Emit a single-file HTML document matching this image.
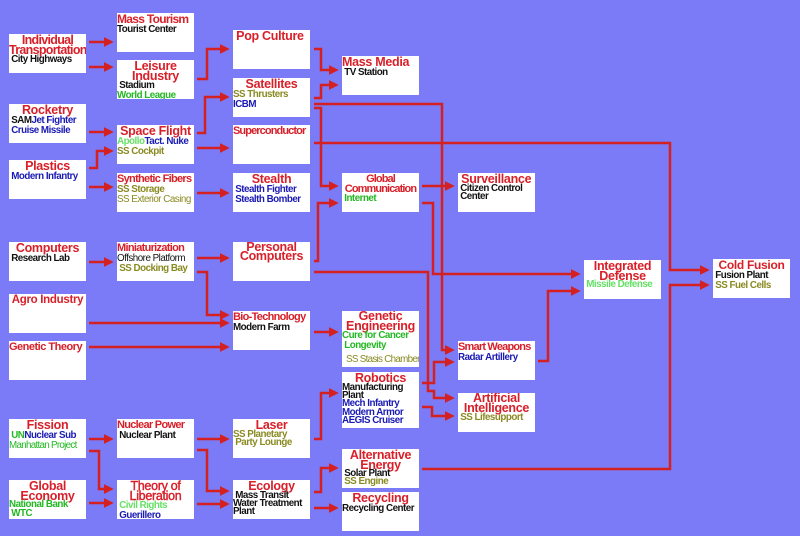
<!DOCTYPE html>
<html><head><meta charset="utf-8"><style>
body{margin:0;width:800px;height:536px;background:#7b7bf7;position:relative;overflow:hidden;font-family:"Liberation Sans",Arial,sans-serif;font-weight:bold}
.b{position:absolute;width:77px;height:39px;background:#fff;line-height:9.5px;font-size:9.8px;letter-spacing:-0.5px;white-space:nowrap;overflow:hidden}
.t{color:#d8202a;font-size:12.5px;line-height:11px;text-align:center;letter-spacing:-0.3px;margin-top:1px}
.k{color:#111}.u{color:#1a1ab4}.o{color:#8a8a22}.g{color:#22b822}.l{color:#66e066}
.n{font-weight:normal}
svg{position:absolute;left:0;top:0}
</style></head><body>
<svg width="800" height="536">
<defs><marker id="a" markerWidth="4" markerHeight="4" refX="2.5" refY="2" orient="auto" markerUnits="strokeWidth"><path d="M0,0L4,2L0,4z" fill="#d42020"/></marker></defs>
<g fill="none" stroke="#d42020" stroke-width="2.5" marker-end="url(#a)">
<path d="M89,42H110"/><path d="M89,67H110"/>
<path d="M197,79H207V49H226"/>
<path d="M314,49H321V70H335"/>
<path d="M314,98H321V85H335"/>
<path d="M314,104H442V350H451"/>
<path d="M314,108H321V186H335"/>
<path d="M314,143H670V270H706"/>
<path d="M89,132H110"/>
<path d="M89,168H97V151H110"/>
<path d="M89,187H110"/>
<path d="M197,133H205V97H226"/>
<path d="M197,148H226"/>
<path d="M197,193H226"/>
<path d="M314,261H318V203H335"/>
<path d="M422,186H451"/>
<path d="M422,203H433V274H577"/>
<path d="M314,272H428V391H434V398H451"/>
<path d="M422,383H434V362H451"/>
<path d="M422,407H432V416H451"/>
<path d="M538,361H548V291H577"/>
<path d="M422,469H670V285H706"/>
<path d="M89,262H110"/>
<path d="M197,258H226"/>
<path d="M197,272H207V315H226"/>
<path d="M89,323H226"/>
<path d="M89,347H226"/>
<path d="M314,332H335"/>
<path d="M89,439H110"/>
<path d="M89,451H99V489H110"/>
<path d="M89,503H110"/>
<path d="M197,439H226"/>
<path d="M197,450H207V491H226"/>
<path d="M197,504H226"/>
<path d="M314,439H321V393H335"/>
<path d="M314,492H321V468H335"/>
<path d="M314,508H335"/>
</g></svg>

<div class="b" style="left:9px;top:34px"><div class="t" style="line-height:10px;letter-spacing:-0.7px">Individual<br>Transportation</div><div class="k">&nbsp;City Highways</div></div>
<div class="b" style="left:117px;top:13px"><div class="t" style="text-align:left;font-size:12px;letter-spacing:-0.7px">Mass Tourism</div><div class="k">Tourist Center</div></div>
<div class="b" style="left:117px;top:60px"><div class="t" style="line-height:10px">Leisure<br>Industry</div><div class="k">&nbsp;Stadium</div><div class="g">World League</div></div>
<div class="b" style="left:233px;top:30px"><div class="t" style="text-align:left">&nbsp;Pop Culture</div></div>
<div class="b" style="left:233px;top:78px"><div class="t">Satellites</div><div class="o">SS Thrusters</div><div class="u">ICBM</div></div>
<div class="b" style="left:233px;top:125px"><div class="t" style="text-align:left;font-size:11px;letter-spacing:-0.9px">Superconductor</div></div>
<div class="b" style="left:233px;top:173px"><div class="t">Stealth</div><div class="u">&nbsp;Stealth Fighter<br>&nbsp;Stealth Bomber</div></div>
<div class="b" style="left:342px;top:56px"><div class="t" style="text-align:left">Mass Media</div><div class="k">&nbsp;TV Station</div></div>
<div class="b" style="left:342px;top:173px"><div class="t" style="line-height:10px;font-size:11px;letter-spacing:-0.9px">Global<br>Communication</div><div class="g">&nbsp;Internet</div></div>
<div class="b" style="left:458px;top:173px"><div class="t" style="text-align:left">&nbsp;Surveillance</div><div class="k" style="line-height:8px">&nbsp;Citizen Control<br>&nbsp;Center</div></div>
<div class="b" style="left:9px;top:104px"><div class="t">Rocketry</div><div><span class="k">&nbsp;SAM</span><span class="u">Jet Fighter</span></div><div class="u">&nbsp;Cruise Missile</div></div>
<div class="b" style="left:9px;top:160px"><div class="t">Plastics</div><div class="u">&nbsp;Modern Infantry</div></div>
<div class="b" style="left:117px;top:125px"><div class="t">Space Flight</div><div><span class="l">Apollo</span><span class="u">Tact. Nuke</span></div><div class="o">SS Cockpit</div></div>
<div class="b" style="left:117px;top:173px"><div class="t" style="font-size:11px;letter-spacing:-0.7px;text-align:left">Synthetic Fibers</div><div class="o">SS Storage</div><div class="o n">SS Exterior Casing</div></div>
<div class="b" style="left:9px;top:242px"><div class="t">Computers</div><div class="k">&nbsp;Research Lab</div></div>
<div class="b" style="left:117px;top:242px"><div class="t" style="font-size:11px;letter-spacing:-0.7px;text-align:left">Miniaturization</div><div class="k n">Offshore Platform</div><div class="o">&nbsp;SS Docking Bay</div></div>
<div class="b" style="left:233px;top:242px"><div class="t" style="line-height:9px">Personal<br>Computers</div></div>
<div class="b" style="left:9px;top:294px"><div class="t" style="font-size:11.5px">Agro Industry</div></div>
<div class="b" style="left:9px;top:341px"><div class="t" style="font-size:11px;text-align:left;letter-spacing:-0.5px">Genetic Theory</div></div>
<div class="b" style="left:233px;top:311px"><div class="t" style="font-size:11px;text-align:left;letter-spacing:-0.7px">Bio-Technology</div><div class="k">Modern Farm</div></div>
<div class="b" style="left:342px;top:311px;height:56px"><div class="t" style="line-height:9.5px">Genetic<br>Engineering</div><div class="g">Cure for Cancer<br>&nbsp;Longevity</div><div class="o n" style="margin-top:5px;letter-spacing:-0.7px">&nbsp;&nbsp;SS Stasis Chamber</div></div>
<div class="b" style="left:342px;top:372px;height:56px"><div class="t">Robotics</div><div class="k" style="line-height:8px">Manufacturing<br>Plant</div><div class="u" style="line-height:8.5px">Mech Infantry<br>Modern Armor<br>AEGIS Cruiser</div></div>
<div class="b" style="left:458px;top:341px"><div class="t" style="font-size:11px;letter-spacing:-0.8px;text-align:left">Smart Weapons</div><div class="u">Radar Artillery</div></div>
<div class="b" style="left:458px;top:393px"><div class="t" style="line-height:9.5px">Artificial<br>Intelligence</div><div class="o">&nbsp;SS Lifesupport</div></div>
<div class="b" style="left:584px;top:260px"><div class="t" style="line-height:10px">Integrated<br>Defense</div><div class="l" style="line-height:8px">&nbsp;Missile Defense</div></div>
<div class="b" style="left:713px;top:259px"><div class="t" style="font-size:12px">Cold Fusion</div><div class="k">&nbsp;Fusion Plant</div><div class="o">&nbsp;SS Fuel Cells</div></div>
<div class="b" style="left:9px;top:419px"><div class="t">Fission</div><div><span class="g">&nbsp;UN</span><span class="u">Nuclear Sub</span></div><div class="g n" style="letter-spacing:-0.7px">Manhattan Project</div></div>
<div class="b" style="left:117px;top:419px"><div class="t" style="font-size:11px;letter-spacing:-0.7px;text-align:left">Nuclear Power</div><div class="k">&nbsp;Nuclear Plant</div></div>
<div class="b" style="left:233px;top:419px"><div class="t">Laser</div><div class="o" style="line-height:8px">SS Planetary<br>&nbsp;Party Lounge</div></div>
<div class="b" style="left:9px;top:480px"><div class="t" style="line-height:10px">Global<br>Economy</div><div class="g" style="line-height:8.5px">National Bank<br>&nbsp;WTC</div></div>
<div class="b" style="left:117px;top:480px"><div class="t" style="line-height:10px;font-weight:normal;-webkit-text-stroke:0.4px #d8202a">Theory of<br>Liberation</div><div class="l">&nbsp;Civil Rights</div><div class="u">&nbsp;Guerillero</div></div>
<div class="b" style="left:233px;top:480px"><div class="t">Ecology</div><div class="k" style="line-height:8px">&nbsp;Mass Transit<br>Water Treatment<br>Plant</div></div>
<div class="b" style="left:342px;top:449px"><div class="t" style="line-height:10px">Alternative<br>Energy</div><div class="k" style="line-height:8px">&nbsp;Solar Plant</div><div class="o" style="line-height:8px">&nbsp;SS Engine</div></div>
<div class="b" style="left:342px;top:492px"><div class="t">Recycling</div><div class="k">Recycling Center</div></div>
</body></html>
